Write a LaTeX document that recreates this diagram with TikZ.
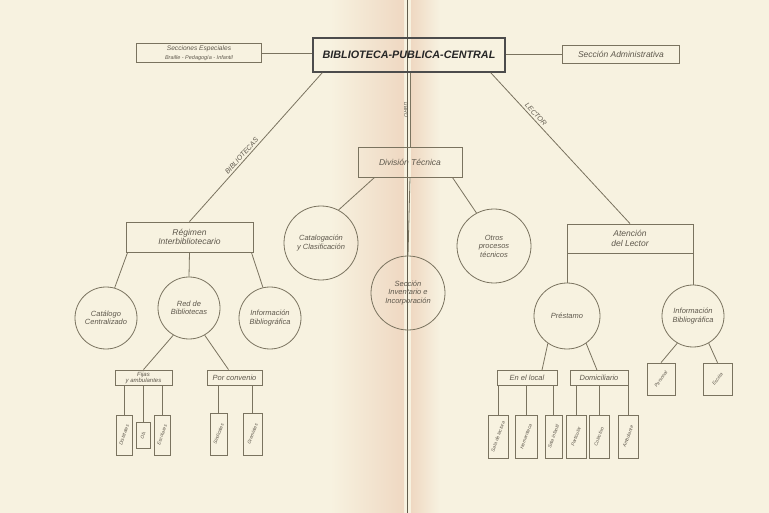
\documentclass[tikz,border=0pt]{standalone}
\usepackage{fontspec}
\setmainfont{Liberation Sans}
\definecolor{papel}{HTML}{F7F2E0}
\definecolor{pliegue}{HTML}{EFD8C2}
\definecolor{trazo}{HTML}{7A735F}
\definecolor{letra}{HTML}{5E584C}
\begin{document}
\begin{tikzpicture}[x=1pt,y=-1pt,
    caja/.style={draw=trazo, line width=0.8pt, align=center, text=letra,
        font=\fontsize{8.5}{9.5}\selectfont\itshape, inner sep=0.5pt},
    circulo/.style={draw=trazo, circle, line width=0.8pt, align=center, text=letra,
        font=\fontsize{7.5}{8.5}\selectfont\itshape, inner sep=0pt},
    ficha/.style={draw=trazo, line width=0.7pt, text=letra, inner sep=0pt,
        font=\fontsize{4.8}{5}\selectfont\itshape},
    linea/.style={draw=trazo, line width=0.8pt},
    etiqueta/.style={text=letra, font=\fontsize{7}{7}\selectfont\itshape, inner sep=2pt}]
\useasboundingbox (0,0) rectangle (769,513);
% papel y pliegue central
\fill[papel] (0,0) rectangle (769,513);
\shade[left color=papel, right color=pliegue] (330,0) rectangle (404,513);
\shade[left color=pliegue, right color=papel] (411,0) rectangle (440,513);
\draw[trazo!80!black, line width=1.2pt] (407.5,0) -- (407.5,513);
% cabecera
\node[caja, minimum width=192, minimum height=34, line width=1.3pt, draw=black!70,
    text=black!85, font=\fontsize{10.8}{13}\selectfont\bfseries\itshape]
    (titulo) at (409,55) {BIBLIOTECA-PUBLICA-CENTRAL};
\node[caja, minimum width=125, minimum height=19] (secesp) at (199,53)
    {{\fontsize{6.6}{7}\selectfont Secciones Especiales}\\[-1pt]
     {\fontsize{5.5}{6}\selectfont Braille - Pedagogía - Infantil}};
\node[caja, minimum width=117, minimum height=18, font=\fontsize{8.5}{9}\selectfont\itshape]
    (admin) at (621,54) {Sección Administrativa};
% divisiones
\node[caja, minimum width=104, minimum height=30] (divtec) at (410,162) {División Técnica};
\node[caja, minimum width=127, minimum height=30] (regimen) at (189.5,237) {Régimen\\Interbibliotecario};
\node[caja, minimum width=126, minimum height=29] (atencion) at (630,238.5) {Atención\\del Lector};
% circulos
\node[circulo, minimum size=62] (catalogo) at (106,318) {Catálogo\\Centralizado};
\node[circulo, minimum size=62] (red) at (189,308) {Red de\\Bibliotecas};
\node[circulo, minimum size=62] (infobib) at (270,318) {Información\\Bibliográfica};
\node[circulo, minimum size=74] (catalogacion) at (321,243) {Catalogación\\y Clasificación};
\node[circulo, minimum size=74] (inventario) at (408,293) {Sección\\Inventario e\\Incorporación};
\node[circulo, minimum size=74] (otros) at (494,246) {Otros\\procesos\\técnicos};
\node[circulo, minimum size=66] (prestamo) at (567,316) {Préstamo};
\node[circulo, minimum size=62] (infolector) at (693,316) {Información\\Bibliográfica};
% grupos
\node[caja, minimum width=57, minimum height=15, font=\fontsize{6}{6}\selectfont\itshape]
    (fijas) at (143.5,377.5) {Fijas\\y ambulantes};
\node[caja, minimum width=55, minimum height=15, font=\fontsize{7.5}{8}\selectfont\itshape]
    (convenio) at (234.5,377.5) {Por convenio};
\node[caja, minimum width=60, minimum height=15, font=\fontsize{7.5}{8}\selectfont\itshape]
    (local) at (527,378) {En el local};
\node[caja, minimum width=58, minimum height=15, font=\fontsize{7.5}{8}\selectfont\itshape]
    (domic) at (599,378) {Domiciliario};
% fichas
\node[ficha, minimum width=16, minimum height=40] (f1) at (124,435) {\rotatebox{70}{Distritales}};
\node[ficha, minimum width=14, minimum height=26] (f2) at (143,435) {\rotatebox{70}{Ob.}};
\node[ficha, minimum width=16, minimum height=40] (f3) at (162,435) {\rotatebox{70}{Escolares}};
\node[ficha, minimum width=17, minimum height=42] (f4) at (218.5,434) {\rotatebox{70}{Sindicales}};
\node[ficha, minimum width=19, minimum height=42] (f5) at (252.5,434) {\rotatebox{70}{Gremiales}};
\node[ficha, minimum width=20, minimum height=43] (f6) at (498,436.5) {\rotatebox{70}{Sala de lectura}};
\node[ficha, minimum width=22, minimum height=43] (f7) at (526,436.5) {\rotatebox{70}{Hemeroteca}};
\node[ficha, minimum width=17, minimum height=43] (f8) at (553.5,436.5) {\rotatebox{70}{Sala infantil}};
\node[ficha, minimum width=20, minimum height=43] (f9) at (576,436.5) {\rotatebox{70}{Particular}};
\node[ficha, minimum width=20, minimum height=43] (f10) at (599,436.5) {\rotatebox{70}{Colectivo}};
\node[ficha, minimum width=20, minimum height=43] (f11) at (628,436.5) {\rotatebox{70}{Ambulante}};
\node[ficha, minimum width=28, minimum height=32] (f12) at (661,379) {\rotatebox{55}{Personal}};
\node[ficha, minimum width=29, minimum height=32] (f13) at (717.5,379) {\rotatebox{55}{Escrita}};
% conexiones
\draw[linea] (secesp.east) -- (secesp.east -| titulo.west);
\draw[linea] (titulo.east |- admin.west) -- (admin.west);
\draw[linea] ([xshift=10]titulo.south west) -- node[etiqueta, sloped, above, pos=0.58] {BIBLIOTECAS} (regimen.north);
\draw[linea] (titulo.south -| divtec.north) -- node[etiqueta, sloped, below, pos=0.5, font=\fontsize{5}{5}\selectfont\itshape] {LIBRO} (divtec.north);
\draw[linea] ([xshift=-15]titulo.south east) -- node[etiqueta, sloped, above, pos=0.3] {LECTOR} (atencion.north);
\draw[linea] ([xshift=17]divtec.south west) -- (catalogacion.62);
\draw[linea] (divtec.south) -- (inventario.north);
\draw[linea] ([xshift=-10]divtec.south east) -- (otros.118);
\draw[linea] ([xshift=2]regimen.south west) -- (catalogo.74);
\draw[linea] (regimen.south) -- (red.north);
\draw[linea] ([xshift=-2]regimen.south east) -- (infobib.103);
\draw[linea] (prestamo.north |- atencion.south) -- (prestamo.north);
\draw[linea] (infolector.north |- atencion.south) -- (infolector.north);
\draw[linea] (red.240) -- (fijas.north);
\draw[linea] (red.300) -- ([xshift=-6]convenio.north);
\draw[linea] (prestamo.235) -- ([xshift=15]local.north);
\draw[linea] (prestamo.305) -- ([xshift=-2]domic.north);
\draw[linea] (infolector.240) -- (f12.north);
\draw[linea] (infolector.300) -- (f13.north);
\draw[linea] (fijas.south -| f1) -- (f1.north);
\draw[linea] (fijas.south -| f2) -- (f2.north);
\draw[linea] (fijas.south -| f3) -- (f3.north);
\draw[linea] (convenio.south -| f4) -- (f4.north);
\draw[linea] (convenio.south -| f5) -- (f5.north);
\draw[linea] (local.south -| f6) -- (f6.north);
\draw[linea] (local.south -| f7) -- (f7.north);
\draw[linea] (local.south -| f8) -- (f8.north);
\draw[linea] (domic.south -| f9) -- (f9.north);
\draw[linea] (domic.south -| f10) -- (f10.north);
\draw[linea] (domic.south -| f11) -- (f11.north);
\end{tikzpicture}
\end{document}
